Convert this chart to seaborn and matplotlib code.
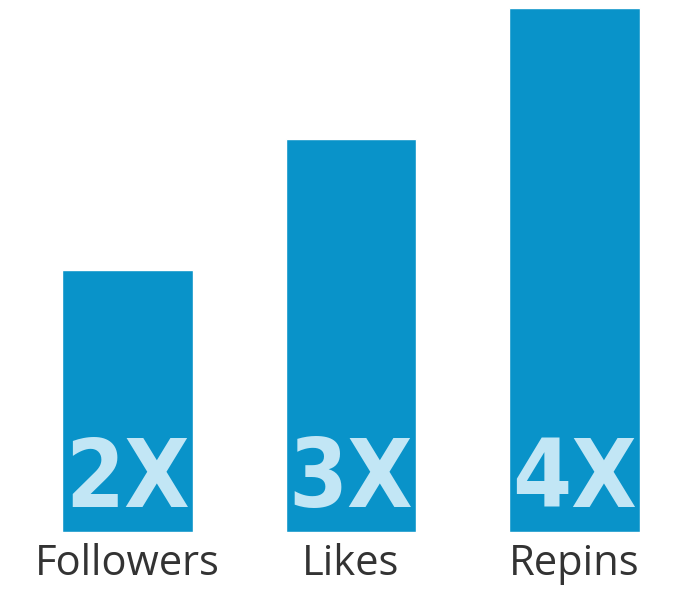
import matplotlib
matplotlib.use("Agg")
import matplotlib.pyplot as plt
import pandas as pd
import seaborn as sns

categories = ["Followers", "Likes", "Repins"]
values = [2, 3, 4]
bar_labels = ["2X", "3X", "4X"]

sns.set_style("white")
plt.rcParams['font.family'] = ['Open Sans', 'DejaVu Sans']

df = pd.DataFrame({"Category": categories, "Value": values})

fig = plt.figure(figsize=(7, 6.01), dpi=100)
ax = fig.add_axes([15.75 / 700, 69 / 601, 670.5 / 700, 524 / 601])
sns.barplot(data=df, x="Category", y="Value", color="#0993c9", saturation=1,
            width=0.586, ax=ax)
ax.set_xlim(-0.5, 2.5)
ax.set_ylim(0, 4)

# big labels inside the bars (condensed bold)
for i, lab in enumerate(bar_labels):
    ax.annotate(lab, (i, 0), xytext=(0, 5), textcoords="offset pixels",
                ha="center", va="bottom", color="#c2e6f5",
                fontsize=68, fontweight="bold", fontstretch="condensed",
                family="DejaVu Sans")

ax.set_xlabel("")
ax.set_ylabel("")
ax.set_yticks([])
ax.tick_params(axis="x", length=0, pad=8, labelsize=30, labelcolor="#333333")
sns.despine(left=True, bottom=True)

fig.savefig("out.png", dpi=100)
